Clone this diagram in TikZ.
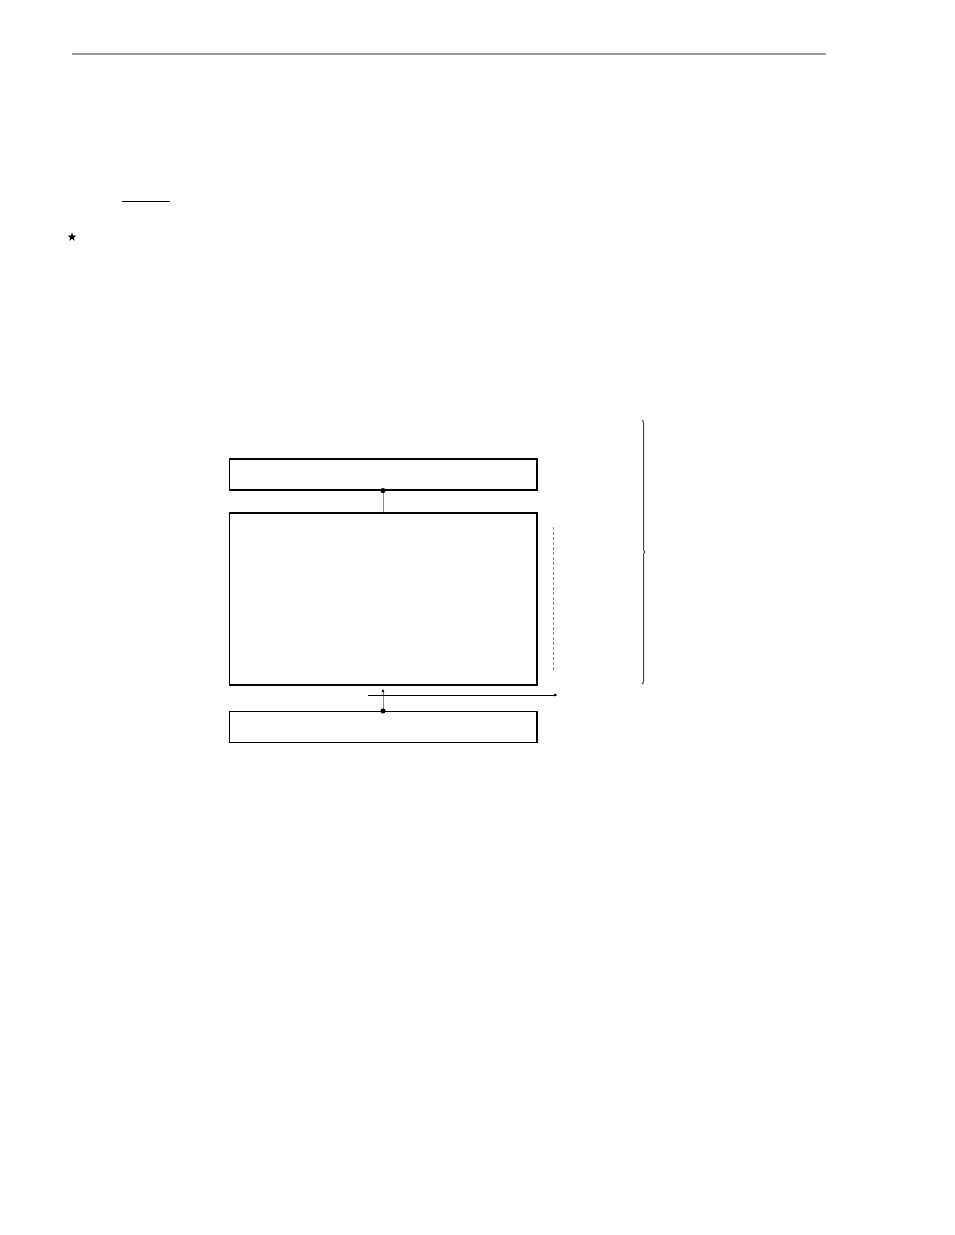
\documentclass[tikz,border=0pt]{standalone}
\usepackage{xcolor}
\usepackage{tikz}
\usetikzlibrary{positioning, arrows.meta, decorations.pathreplacing, shapes.geometric}

\begin{document}
\begin{tikzpicture}[x=1pt, y=-1pt, boxnode/.style={rectangle, draw=black, line width=1.2pt, minimum width=307pt, inner sep=0pt}, linknode/.style={draw=black!45, line width=0.9pt}]
\useasboundingbox (0,0) rectangle (954,1235);

% header rule and marks
\draw[black!40, line width=1.2pt] (72,54) -- (826,54);
\draw[black, line width=1pt] (122,201) -- (170,201);
\node[star, star points=5, star point ratio=2.4, fill=black, minimum size=9pt, inner sep=0pt] at (72,237) (mark) {};

\node[boxnode, minimum height=31pt] at (383,474.5) (head) {};
\node[boxnode, minimum height=172pt] at (383,599) (body) {};
\node[boxnode, minimum height=31pt] at (383,727) (foot) {};
\foreach \b in {head, body, foot}
  \draw[line width=2.4pt] (\b.north east) -- (\b.south east);

\draw[linknode] (head.south) -- (body.north);
\fill[black] (head.south) circle (2.6pt);
\draw[linknode, {Latex[length=3.5pt, width=3pt, black]}-, shorten <=3pt] (body.south) -- (foot.north);
\fill[black] (foot.north) circle (2.6pt);

\coordinate (exitA) at (368,695);
\coordinate (exitB) at (558,695);
\draw[line width=0.8pt, -{Latex[length=4pt]}] (exitA) -- (exitB);

\coordinate (dashA) at (553,527);
\coordinate (dashB) at (553,672);
\draw[black!45, line width=0.8pt, dash pattern=on 3pt off 2pt] (dashA) -- (dashB);

\coordinate (braceA) at (642,420);
\coordinate (braceB) at (642,684);
\draw[black!75, line width=1pt, decorate, decoration={brace, amplitude=3pt}] (braceA) -- (braceB);

\end{tikzpicture}
\end{document}
